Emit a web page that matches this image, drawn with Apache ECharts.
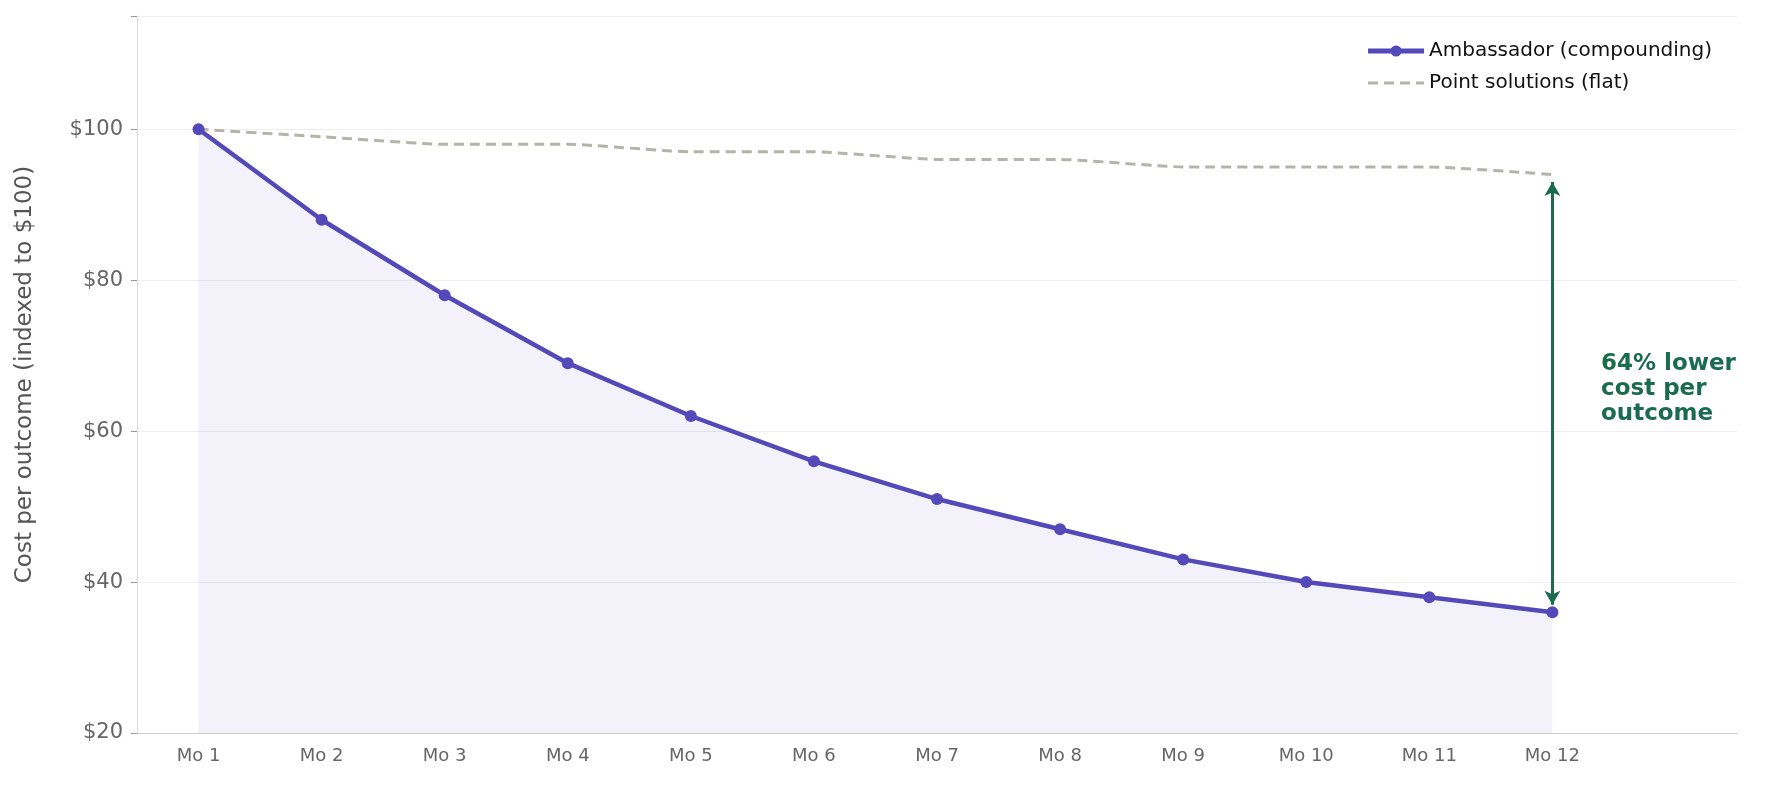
<!DOCTYPE html>
<html>
<head>
<meta charset="utf-8">
<style>
html,body{margin:0;width:100%;height:100%;background:#fff;}
#chart{width:1765px;height:791px;}
</style>
</head>
<body>
<div id="chart"></div>
<script src="https://cdn.jsdelivr.net/npm/echarts@6/dist/echarts.min.js"></script>
<script>
// data
const months = ['Mo 1','Mo 2','Mo 3','Mo 4','Mo 5','Mo 6','Mo 7','Mo 8','Mo 9','Mo 10','Mo 11','Mo 12',''];
const ambassador = [100,88,78,69,62,56,51,47,43,40,38,36];
const pointSolutions = [100,99,98,98,97,97,96,96,95,95,95,94];

const chart = echarts.init(document.getElementById('chart'));
const font = 'DejaVu Sans';
chart.setOption({
  animation: false,
  textStyle: {fontFamily: font},
  grid: {left: 137, right: 28, top: 16, bottom: 58},
  legend: {
    right: 48, top: 36, orient: 'vertical', itemGap: 12, itemWidth: 56, itemHeight: 14,
    textStyle: {fontSize: 20, color: '#111', fontFamily: font},
    data: [
      {name: 'Ambassador (compounding)', lineStyle: {width: 5}},
      {name: 'Point solutions (flat)', itemStyle: {opacity: 0}, lineStyle: {width: 3}}
    ]
  },
  xAxis: {
    type: 'category', data: months, boundaryGap: true,
    axisLine: {lineStyle: {color: '#cccccc'}},
    axisTick: {alignWithLabel: true, length: 6, lineStyle: {color: '#999'}, interval: function(i){ return i < 12; }},
    axisLabel: {fontSize: 18, color: '#666', margin: 14, interval: 0}
  },
  yAxis: {
    type: 'value', min: 20, max: 115, interval: 20,
    name: 'Cost per outcome (indexed to $100)', nameLocation: 'middle', nameGap: 100,
    nameTextStyle: {fontSize: 23, color: '#555'},
    axisLine: {show: true, lineStyle: {color: '#dddddd'}},
    axisTick: {show: true, length: 6, lineStyle: {color: '#999'}},
    axisLabel: {fontSize: 21, color: '#666', margin: 14, formatter: v => v > 100 ? '' : '$' + v},
    splitLine: {lineStyle: {color: '#eeeeee'}}
  },
  series: [
    {
      name: 'Ambassador (compounding)', type: 'line', data: ambassador,
      symbol: 'circle', symbolSize: 12, z: 3,
      itemStyle: {color: '#5449b9'},
      lineStyle: {color: '#5449b9', width: 4.5},
      areaStyle: {color: 'rgba(84,73,185,0.1)', origin: 'start'},
      markLine: {
        silent: true, symbol: ['arrow','arrow'], symbolSize: [12, 14],
        label: {show: false},
        lineStyle: {color: '#1b6b4f', width: 3, type: 'solid'},
        data: [[{coord: ['Mo 12', 37]}, {coord: ['Mo 12', 93]}]]
      }
    },
    {
      name: 'Point solutions (flat)', type: 'line', data: pointSolutions,
      showSymbol: false, symbol: 'none', smooth: 0.15, z: 2,
      itemStyle: {color: '#b5b3aa'},
      lineStyle: {color: '#b5b3aa', width: 3, type: [10, 6]}
    }
  ],
  graphic: [{
    type: 'text', left: 1601, top: 352,
    style: {text: '64% lower\ncost per\noutcome', fill: '#1b6b4f', font: 'bold 23px DejaVu Sans', lineHeight: 25}
  }]
});
</script>
</body>
</html>
